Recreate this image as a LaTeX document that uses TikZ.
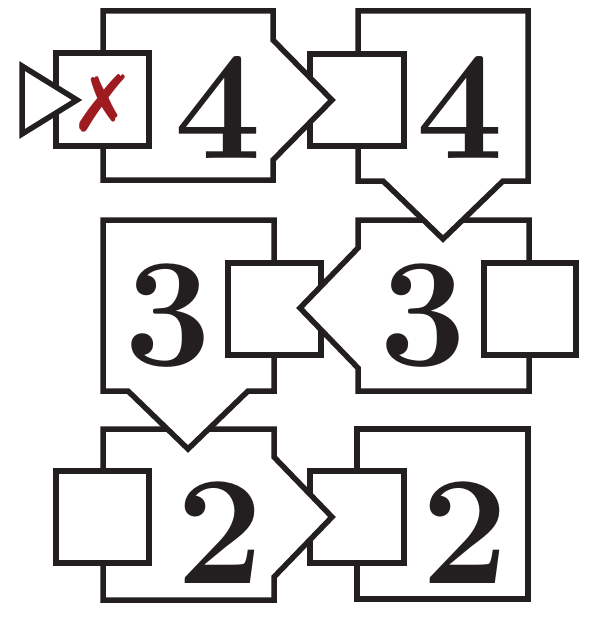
\documentclass[tikz,border=0pt]{standalone}
\usepackage{fontspec}
\newfontfamily\symfont{DejaVu Sans}
\definecolor{ink}{HTML}{231F20}
\definecolor{xred}{HTML}{9E1B20}
\tikzset{
  shp/.style={draw=ink, fill=white, line width=5.5pt, line join=miter, miter limit=10},
  digit/.style={inner sep=0pt, text=ink, font=\fontsize{155}{155}\selectfont\bfseries},
}
\begin{document}
\begin{tikzpicture}[x=1pt,y=-1pt]
\useasboundingbox (0,0) rectangle (603,634);
% ---- row 3 right (F)
\draw[shp] (357,429) rectangle (528,599);
\node[digit] (dF) at (465,533) {2};
\draw[shp] (310,471) rectangle (404,563);
% ---- row 3 left (E)
\draw[shp] (103,429) -- (274,429) -- (274,457) -- (332,517) -- (274,577) -- (274,600) -- (103,600) -- cycle;
\node[digit] (dE) at (220,533) {2};
\draw[shp] (56,471) rectangle (149,563);
% ---- row 2 left (D)
\draw[shp] (103,220) -- (274,220) -- (274,391) -- (248,391) -- (188,449) -- (128,391) -- (103,391) -- cycle;
\node[digit] (dD) at (168,316) {3};
\draw[shp] (228,263) rectangle (321,355);
% ---- row 2 right (C)
\draw[shp] (358,220) -- (529,220) -- (529,391) -- (358,391) -- (358,368) -- (300,308) -- (358,248) -- cycle;
\node[digit] (dC) at (423,316) {3};
\draw[shp] (484,263) rectangle (576,355);
% ---- row 1 right (B)
\draw[shp] (358,11) -- (528,11) -- (528,181) -- (503,181) -- (443,239) -- (383,181) -- (358,181) -- cycle;
\node[digit] (dB) at (460,108) {4};
\draw[shp] (310,54) rectangle (404,146);
% ---- row 1 left (A)
\draw[shp] (103,11) -- (273,11) -- (273,40) -- (332,100) -- (273,160) -- (273,180) -- (103,180) -- cycle;
\node[digit] (dA) at (218,108) {4};
\draw[shp] (56,53) rectangle (149,146);
\draw[shp] (22,66) -- (77,100) -- (22,134) -- cycle;
\node[inner sep=0pt, text=xred, font=\symfont\fontsize{78}{78}\selectfont] (xmark) at (103,103) {✗};
\end{tikzpicture}
\end{document}
